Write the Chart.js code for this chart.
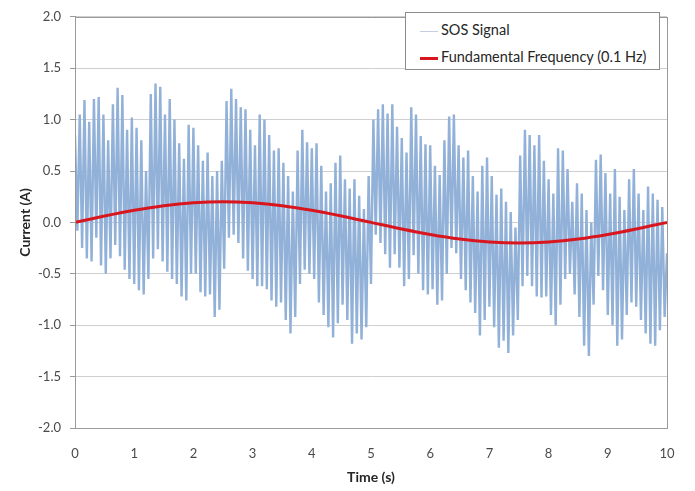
<!DOCTYPE html>
<html>
<head>
<meta charset="utf-8">
<script src="https://cdn.jsdelivr.net/npm/chart.js@4.4.1/dist/chart.umd.min.js"></script>
<style>
  html, body { margin: 0; padding: 0; background: #ffffff; }
  #wrap { position: relative; width: 695px; height: 491px; }
  #legend {
    position: absolute; left: 405px; top: 12px; width: 255px; height: 58px;
    background: #ffffff; border: 1px solid #8c8c8c; box-sizing: border-box;
    font-family: Lato, "Open Sans", sans-serif; font-size: 14.5px; color: #262626;
  }
  .item { position: absolute; left: 14px; height: 16px; line-height: 16px; white-space: nowrap; }
  .swatch { display: inline-block; width: 18px; vertical-align: middle; margin-right: 3px; }
</style>
</head>
<body>
<div id="wrap">
  <canvas id="c" width="695" height="491"></canvas>
  <div id="legend">
    <div class="item" style="top:9px"><span class="swatch" style="border-top:1px solid #c3cfe0"></span>SOS Signal</div>
    <div class="item" style="top:36px"><span class="swatch" style="border-top:3px solid #d9161d"></span>Fundamental Frequency (0.1 Hz)</div>
  </div>
</div>
<script>
// ---- data ----
const sampleStep = 0.04; // s between successive SOS samples (peak, trough, peak, ...)
// SOS signal local maxima at t = 0, 0.08, 0.16, ... 9.92 s
const sosPeaks = [
  0.85, 1.05, 1.19, 0.98, 1.20, 1.22, 1.05, 0.80, 1.15, 1.31,
  1.24, 0.90, 1.02, 0.92, 0.80, 0.50, 1.25, 1.35, 1.32, 1.05,
  1.20, 1.00, 0.77, 0.62, 0.95, 0.92, 0.75, 0.60, 0.68, 0.45,
  0.50, 0.60, 1.18, 1.30, 1.20, 1.12, 1.10, 0.90, 0.75, 1.05,
  1.00, 0.85, 0.70, 0.72, 0.58, 0.45, 0.30, 0.70, 0.90, 0.78,
  0.72, 0.77, 0.55, 0.30, 0.38, 0.58, 0.65, 0.42, 0.33, 0.42,
  0.26, 0.13, 0.45, 1.00, 1.10, 1.15, 1.06, 1.15, 0.93, 0.82,
  0.68, 1.12, 1.05, 0.84, 0.76, 0.75, 0.55, 0.46, 0.80, 1.03,
  1.05, 0.75, 0.63, 0.70, 0.45, 0.30, 0.55, 0.63, 0.45, 0.27,
  0.33, 0.20, 0.10, -0.05, 0.65, 0.90, 0.85, 0.75, 0.85, 0.60,
  0.42, 0.28, 0.72, 0.70, 0.52, 0.20, 0.38, 0.28, 0.12, 0.00,
  0.61, 0.66, 0.48, 0.28, 0.52, 0.25, 0.12, 0.42, 0.52, 0.28,
  0.12, 0.35, 0.28, 0.22, 0.15
];
// SOS signal local minima at t = 0.04, 0.12, 0.20, ... 9.96 s
const sosTroughs = [
  -0.08, -0.25, -0.35, -0.38, -0.15, -0.42, -0.50, -0.35, -0.22, -0.33,
  -0.46, -0.55, -0.60, -0.66, -0.70, -0.55, -0.35, -0.26, -0.38, -0.48,
  -0.55, -0.60, -0.72, -0.76, -0.50, -0.50, -0.68, -0.72, -0.70, -0.92,
  -0.85, -0.45, -0.15, -0.12, -0.20, -0.35, -0.47, -0.55, -0.62, -0.62,
  -0.65, -0.76, -0.82, -0.78, -0.95, -1.08, -0.92, -0.60, -0.46, -0.50,
  -0.55, -0.78, -0.90, -1.02, -1.12, -0.98, -0.80, -0.95, -1.18, -1.08,
  -1.14, -1.02, -0.60, -0.12, -0.20, -0.31, -0.44, -0.31, -0.44, -0.62,
  -0.55, -0.32, -0.50, -0.66, -0.70, -0.65, -0.80, -0.76, -0.50, -0.25,
  -0.30, -0.55, -0.66, -0.78, -0.88, -1.10, -0.95, -0.82, -1.02, -1.22,
  -1.15, -1.27, -1.10, -0.95, -0.62, -0.52, -0.62, -0.72, -0.73, -0.72,
  -0.90, -1.00, -0.80, -0.55, -0.50, -0.70, -0.92, -1.20, -1.30, -0.80,
  -0.52, -0.66, -0.90, -1.00, -1.20, -1.14, -0.90, -0.78, -0.82, -0.95,
  -1.08, -1.18, -1.20, -1.05, -0.92
];
const sosLast = -0.30; // value at t = 10 s

// Fundamental (0.1 Hz) read every 0.5 s
const fundTime = [0, 0.5, 1, 1.5, 2, 2.5, 3, 3.5, 4, 4.5, 5, 5.5, 6, 6.5, 7, 7.5, 8, 8.5, 9, 9.5, 10];
const fundValues = [0, 0.062, 0.118, 0.162, 0.19, 0.2, 0.19, 0.162, 0.118, 0.062, 0,
  -0.062, -0.118, -0.162, -0.19, -0.2, -0.19, -0.162, -0.118, -0.062, 0];

const xTicks = [0, 1, 2, 3, 4, 5, 6, 7, 8, 9, 10];
const yTicks = [-2.0, -1.5, -1.0, -0.5, 0.0, 0.5, 1.0, 1.5, 2.0];

// ---- build series ----
const sosPoints = [];
for (let k = 0; k < sosPeaks.length; k++) {
  sosPoints.push({ x: +(2 * k * sampleStep).toFixed(3), y: sosPeaks[k] });
  sosPoints.push({ x: +((2 * k + 1) * sampleStep).toFixed(3), y: sosTroughs[k] });
}
sosPoints.push({ x: 10, y: sosLast });
const fundPoints = fundTime.map((t, i) => ({ x: t, y: fundValues[i] }));

const frame = {
  id: 'frame',
  afterDraw(chart) {
    const { ctx, chartArea: a } = chart;
    ctx.save();
    ctx.strokeStyle = '#9a9a9a';
    ctx.lineWidth = 1;
    ctx.strokeRect(Math.round(a.left) + 0.5, Math.round(a.top) + 0.5,
      Math.round(a.right - a.left), Math.round(a.bottom - a.top));
    ctx.restore();
  }
};

new Chart(document.getElementById('c'), {
  type: 'line',
  data: {
    datasets: [
      { label: 'Fundamental Frequency (0.1 Hz)', data: fundPoints, borderColor: '#d9161d',
        borderWidth: 3, pointRadius: 0, tension: 0.4, cubicInterpolationMode: 'monotone' },
      { label: 'SOS Signal', data: sosPoints, borderColor: 'rgb(146,177,216)',
        borderWidth: 2.4, pointRadius: 0, tension: 0 }
    ]
  },
  options: {
    responsive: false,
    animation: false,
    parsing: false,
    layout: { padding: { top: 10, right: 28, left: 0, bottom: 0 } },
    plugins: { legend: { display: false }, tooltip: { enabled: false } },
    scales: {
      x: {
        type: 'linear', min: 0, max: 10,
        afterBuildTicks: (s) => { s.ticks = xTicks.map(v => ({ value: v })); },
        afterFit: (s) => { s.height = 63; },
        grid: { display: false, drawTicks: false },
        border: { display: true, color: '#9a9a9a' },
        ticks: { padding: 18, color: '#4a4a4a', font: { family: 'Lato', size: 13 },
                 callback: (v) => String(v) },
        title: { display: true, text: 'Time (s)', color: '#262626',
                 font: { family: 'Lato', size: 14, weight: 'bold' }, padding: { top: 0, bottom: 5 } }
      },
      y: {
        min: -2, max: 2,
        afterBuildTicks: (s) => { s.ticks = yTicks.map(v => ({ value: v })); },
        afterFit: (s) => { s.width = 75; },
        grid: { color: '#cfcfcf', tickLength: 5, tickColor: '#9a9a9a' },
        border: { display: true, color: '#9a9a9a' },
        ticks: { padding: 9, color: '#4a4a4a', font: { family: 'Lato', size: 13 },
                 callback: (v) => Number(v).toFixed(1) },
        title: { display: true, text: 'Current (A)', color: '#262626',
                 font: { family: 'Lato', size: 14, weight: 'bold' }, padding: { top: 17, bottom: 0 } }
      }
    }
  },
  plugins: [frame]
});
</script>
</body>
</html>
